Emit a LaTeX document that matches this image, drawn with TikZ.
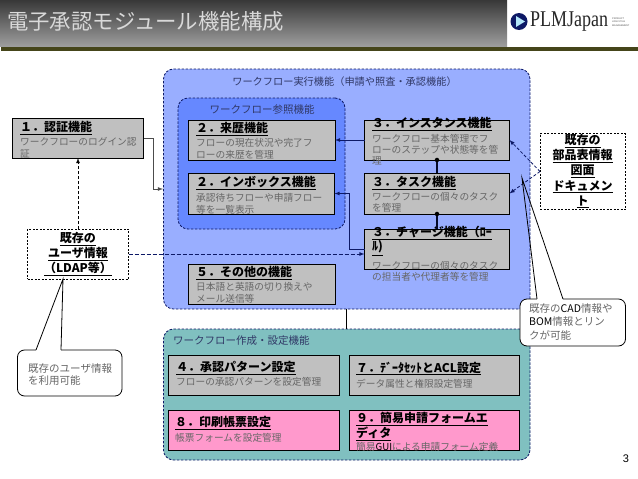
\documentclass[tikz,border=0pt]{standalone}
\usepackage{fontspec}
\usepackage{xcolor}
\setmainfont{Noto Sans CJK JP}
\newfontfamily\logofont{Liberation Serif}
\newfontfamily\numfont{Liberation Sans}
\definecolor{mnavy}{rgb}{0.05, 0.1, 0.4}
\definecolor{mouter}{HTML}{99AEFF}
\definecolor{minner}{HTML}{6688FF}
\definecolor{mgreen}{HTML}{80C0C0}
\definecolor{mgray}{HTML}{C0C0C0}
\definecolor{mpink}{HTML}{FF99CC}
\definecolor{molive}{HTML}{45451A}
\definecolor{mtext}{HTML}{666666}
\newcommand{\hd}[1]{{\fontsize{12}{13}\selectfont\bfseries\color{black}\underline{#1}}}
\newcommand{\blk}[1]{{\color{black}#1}}
\tikzset{
  funcbox/.style = {draw=black, fill=mgray, line width=0.8pt, anchor=north west, inner sep=0pt, outer sep=0pt},
  pinkbox/.style = {funcbox, fill=mpink},
  area/.style = {draw=mnavy, line width=0.8pt, dash pattern=on 2.5pt off 1.5pt, rounded corners=10pt, anchor=north west, inner sep=0pt, outer sep=0pt},
  source/.style = {draw=black, fill=white, line width=0.8pt, dash pattern=on 2pt off 1.5pt, anchor=north west, inner sep=0pt, outer sep=0pt},
  boxtext/.style = {anchor=north west, inner sep=0pt, text=mtext, align=left, font=\fontsize{9.7}{11.3}\selectfont},
  areatext/.style = {inner sep=0pt, text=mnavy!60!mtext, font=\fontsize{10.2}{12}\selectfont},
  srctext/.style = {inner sep=0pt, align=center, font=\fontsize{12}{15.2}\selectfont},
  callout/.style = {draw=black, fill=white, line width=0.8pt, rounded corners=7pt, anchor=north west, inner sep=0pt, outer sep=0pt},
  link/.style = {mnavy, line width=0.8pt, -latex},
  dashlink/.style = {mnavy, line width=0.8pt, dash pattern=on 3pt off 2pt, -latex},
  dot/.style = {circle, fill=black, inner sep=1.6pt},
}
\begin{document}
\begin{tikzpicture}[x=1pt, y=-1pt]
  \useasboundingbox (0,0) rectangle (638,479);
  \shade [top color=black!78, bottom color=black!38] (0,0) rectangle (507,46.5);
  \fill [molive] (1,46.5) rectangle (638,51);
  \node [anchor=west, inner sep=0pt, text=white!85!black, font=\fontsize{21.4}{24}\selectfont] (title) at (7,21) {電子承認モジュール機能構成};

  \node [circle, fill=mnavy, inner sep=0pt, minimum size=17pt] (logo) at (519,21.5) {};
  \fill [white!70!cyan] (516,16) -- (525,21.5) -- (516,27) -- cycle;
  \node [anchor=west, inner sep=0pt, font=\logofont\fontsize{22.5}{24}\selectfont, text=black!85] (logotext) at (530,22) {\scalebox{0.8}[1]{PLMJapan}};
  \node [anchor=west, inner sep=0pt, align=left, text=black!70, font=\numfont\fontsize{2.4}{3.8}\selectfont] (logosub) at (612,22) {PRODUCT\\LIFECYCLE\\MANAGEMENT};

  \node [area, fill=mouter, minimum width=366.5pt, minimum height=240pt] (run) at (163.5,69) {};
  \node [area, fill=minner, minimum width=167pt, minimum height=131pt] (ref) at (178,98) {};
  \node [area, fill=mgreen, minimum width=366.5pt, minimum height=131pt] (make) at (163.5,329) {};
  \node [areatext] (runtext) at (344.5,82) {ワークフロー実行機能（申請や照査・承認機能）};
  \node [areatext, font=\fontsize{10.5}{12}\selectfont] (reftext) at (262,110) {ワークフロー参照機能};
  \node [areatext, anchor=west, font=\fontsize{10.5}{12}\selectfont] (maketext) at (173,341) {ワークフロー作成・設定機能};

  \node [funcbox, minimum width=131pt, minimum height=40pt] (auth) at (12.5,118) {};
  \node [funcbox, minimum width=146.5pt, minimum height=40pt] (hist) at (188.5,120) {};
  \node [funcbox, minimum width=146pt, minimum height=41pt] (inbox) at (188.5,173) {};
  \node [funcbox, minimum width=146.5pt, minimum height=40pt] (other) at (188.5,264) {};
  \node [funcbox, minimum width=145pt, minimum height=40pt] (inst) at (364.5,120) {};
  \node [funcbox, minimum width=145pt, minimum height=41pt] (task) at (364.5,173) {};
  \node [funcbox, minimum width=145pt, minimum height=40pt] (charge) at (364.5,229) {};
  \node [funcbox, minimum width=171pt, minimum height=40pt] (pattern) at (168,355) {};
  \node [funcbox, minimum width=170.5pt, minimum height=40pt] (acl) at (349,355) {};
  \node [pinkbox, minimum width=170.5pt, minimum height=40pt] (print) at (168.5,410.5) {};
  \node [pinkbox, minimum width=170.5pt, minimum height=40pt] (form) at (349,410.5) {};

  \node [boxtext] (authtext) at (20,121) {\hd{１．認証機能}\\[3pt]ワークフローのログイン認\\証};
  \node [boxtext] (histtext) at (196,122) {\hd{２．来歴機能}\\[3pt]フローの現在状況や完了フ\\ローの来歴を管理};
  \node [boxtext] (inboxtext) at (196,176) {\hd{２．インボックス機能}\\[3pt]承認待ちフローや申請フロー\\等を一覧表示};
  \node [boxtext] (othertext) at (196,266) {\hd{５．その他の機能}\\[3pt]日本語と英語の切り換えや\\メール送信等};
  \node [boxtext] (insttext) at (372,117) {\hd{３．インスタンス機能}\\[2.5pt]ワークフロー基本管理でフ\\ローのステップや状態等を管\\理};
  \node [boxtext] (tasktext) at (372,176) {\hd{３．タスク機能}\\[2.5pt]ワークフローの個々のタスク\\を管理};
  \node [boxtext] (chargetext) at (372,226) {\hd{３．チャージ機能（ﾛｰ}\\\hd{ﾙ)}\\[4.5pt]ワークフローの個々のタスク\\の担当者や代理者等を管理};
  \node [boxtext] (patterntext) at (176,361.5) {\hd{４．承認パターン設定}\\[1.5pt]フローの承認パターンを設定管理};
  \node [boxtext] (acltext) at (356,361.5) {\hd{７．ﾃﾞｰﾀｾｯﾄとACL設定}\\[2.5pt]データ属性と権限設定管理};
  \node [boxtext] (printtext) at (175,416.5) {\hd{８．印刷帳票設定}\\[2.5pt]帳票フォームを設定管理};
  \node [boxtext] (formtext) at (356,412) {\hd{９．簡易申請フォームエ}\\[0.5pt]\hd{ディタ}\\簡易\blk{GUI}による申請フォーム定義};

  \node [source, minimum width=101pt, minimum height=50pt] (users) at (27.5,229) {};
  \node [srctext] (userstext) at (78,254) {\underline{\bfseries 既存の}\\\underline{\bfseries ユーザ情報}\\\underline{\bfseries （LDAP等）}};
  \node [source, minimum width=85.5pt, minimum height=76pt] (parts) at (540,133.5) {};
  \node [srctext] (partstext) at (582.5,171) {\underline{\bfseries 既存の}\\\underline{\bfseries 部品表情報}\\\underline{\bfseries 図面}\\\underline{\bfseries ドキュメン}\\\underline{\bfseries ト}};

  \coordinate (runin) at (163,189);
  \draw [link, black!70] (auth.east) -- ++(10,0) |- (runin);
  \draw [dashlink, black] (users.north -| auth.south) -- (auth.south);
  \draw [dashlink, dash pattern=on 4pt off 2pt] (users.east) -- (charge.west |- users.east);
  \draw [link] (inst.west) -- (hist.east);
  \draw [link] (charge.west) -| ([xshift=15pt]inbox.east) -- (inbox.east);
  \draw [dashlink] (parts.west) -- (inst.east);
  \draw [dashlink] (parts.west) -- (task.east);
  \node [dot] (instdot) at (inst.south) {};
  \node [dot] (taskdot) at (task.south) {};
  \draw [black!60!mnavy, line width=1.4pt] (instdot) -- (task.north);
  \draw [black!60!mnavy, line width=1.4pt] (taskdot) -- (charge.north);
  \coordinate (runout) at (346,309);
  \coordinate (makein) at (346,329);
  \draw [black, line width=0.8pt] (runout) -- (makein);

  \node [callout, minimum width=104.5pt, minimum height=46pt] (usernote) at (17.5,350) {};
  \node [boxtext, font=\fontsize{10.5}{12}\selectfont] (usernotetext) at (28,363) {既存のユーザ情報\\を利用可能};
  \node [callout, minimum width=105.5pt, minimum height=47pt] (partnote) at (520,299) {};
  \node [boxtext, font=\fontsize{10.5}{13.5}\selectfont] (partnotetext) at (529,303) {既存の\blk{CAD}情報や\\\blk{BOM}情報とリン\\クが可能};

  \coordinate (usertip) at (63,279);
  \coordinate (userrootl) at (36,350);
  \coordinate (userrootr) at (61,350);
  \draw [white, line width=1.4pt] (userrootl) -- (userrootr);
  \draw [black, line width=0.8pt] (userrootl) -- (usertip) -- (userrootr);
  \coordinate (parttip) at (522,178);
  \coordinate (partrootl) at (537,299);
  \coordinate (partrootr) at (563,299);
  \draw [white, line width=1.4pt] (partrootl) -- (partrootr);
  \draw [black, line width=0.8pt] (partrootl) -- (parttip) -- (partrootr);

  \node [inner sep=0pt, font=\numfont\fontsize{11}{12}\selectfont] (pageno) at (626,459) {3};
\end{tikzpicture}
\end{document}
